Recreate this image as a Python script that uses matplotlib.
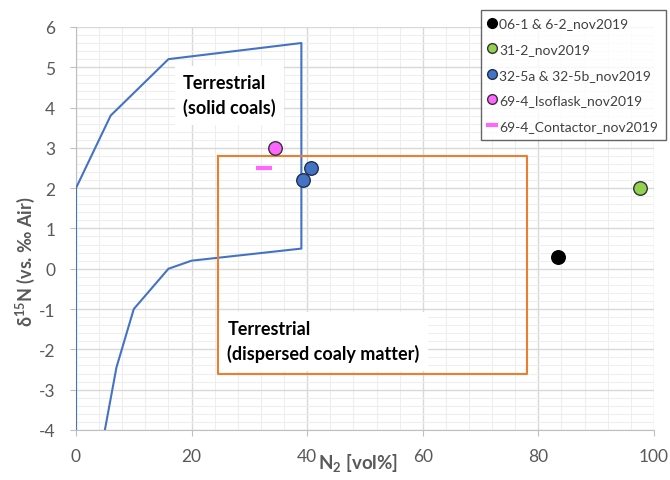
import matplotlib.pyplot as plt
from matplotlib.lines import Line2D

plt.rcParams['font.family'] = ['Lato', 'DejaVu Sans']
plt.rcParams['axes.unicode_minus'] = False
plt.rcParams['mathtext.default'] = 'regular'

# envelope for terrestrial solid coals
coal_x = [5, 7, 10, 16, 20, 39, 39, 16, 6, 0, 0]
coal_y = [-4, -2.45, -1, 0, 0.2, 0.5, 5.6, 5.2, 3.8, 2, -4]

# box for dispersed coaly matter
disp_x = [24.5, 78, 78, 24.5, 24.5]
disp_y = [2.8, 2.8, -2.6, -2.6, 2.8]

# samples
s_black_x, s_black_y = [83.4], [0.3]
s_green_x, s_green_y = [97.6], [2.0]
s_blue_x, s_blue_y = [39.3, 40.6], [2.2, 2.5]
s_pink_x, s_pink_y = [34.4], [3.0]
s_dash_x, s_dash_y = [32.6], [2.5]

labels = ['06-1 & 6-2_nov2019', '31-2_nov2019', '32-5a & 32-5b_nov2019',
          '69-4_Isoflask_nov2019', '69-4_Contactor_nov2019']

fig = plt.figure(figsize=(6.7, 4.81), dpi=100)
ax = fig.add_axes([0.1134, 0.104, 0.8626, 0.838])

ax.plot(coal_x, coal_y, color='#4472c4', lw=1.5, zorder=3)
ax.plot(disp_x, disp_y, color='#ed7d31', lw=1.5, zorder=3)

ax.scatter(s_black_x, s_black_y, s=95, c='black', zorder=5)
ax.scatter(s_green_x, s_green_y, s=95, c='#92d050', edgecolors='#333333', lw=1, zorder=5)
ax.scatter(s_blue_x, s_blue_y, s=95, c='#4472c4', edgecolors='#1f2f4f', lw=1, zorder=5)
ax.scatter(s_pink_x, s_pink_y, s=95, c='#ff66ff', edgecolors='#333333', lw=1, zorder=5)
ax.plot(s_dash_x, s_dash_y, marker='_', ms=12, mew=3, color='#ff66ff', ls='none', zorder=5)

ax.text(18.5, 4.3, 'Terrestrial\n(solid coals)', fontsize=13, fontweight='bold',
        va='center', ha='left', linespacing=1.45, zorder=4,
        bbox=dict(facecolor='white', edgecolor='none', pad=6))
ax.text(26.2, -1.8, 'Terrestrial\n(dispersed coaly matter)', fontsize=13, fontweight='bold',
        va='center', ha='left', linespacing=1.45, zorder=4,
        bbox=dict(facecolor='white', edgecolor='none', pad=6))

ax.set_xlim(0, 100)
ax.set_ylim(-4, 6)
ax.set_xticks(range(0, 101, 20))
ax.set_yticks(range(-4, 7))
ax.set_xticks([x for x in range(0, 101, 4)], minor=True)
ax.set_yticks([-4 + 0.2 * i for i in range(51)], minor=True)
ax.grid(which='major', color='#d9d9d9', lw=1, zorder=0)
ax.grid(which='minor', color='#eeeeee', lw=0.8, zorder=0)
ax.set_axisbelow(True)
for side in ['top', 'right']:
    ax.spines[side].set_visible(False)
for side in ['left', 'bottom']:
    ax.spines[side].set_color('#bfbfbf')
ax.tick_params(which='major', colors='#bfbfbf', labelcolor='#595959', labelsize=12.5, length=4)
ax.tick_params(which='minor', length=0)
ax.tick_params(axis='x', pad=9)
ax.tick_params(axis='y', pad=11)

ax.set_xlabel('N$_2$ [vol%]', fontsize=13.5, fontweight='bold', color='#595959', va='center')
ax.set_ylabel('δ$^{15}$N (vs. ‰ Air)', fontsize=13, fontweight='bold', color='#595959', va='center')
ax.xaxis.set_label_coords(0.488, -0.08)
ax.yaxis.set_label_coords(-0.088, 0.42)

handles = [
    Line2D([], [], marker='o', ls='none', color='black', ms=7),
    Line2D([], [], marker='o', ls='none', mfc='#92d050', mec='#333333', ms=7),
    Line2D([], [], marker='o', ls='none', mfc='#4472c4', mec='#1f2f4f', ms=7),
    Line2D([], [], marker='o', ls='none', mfc='#ff66ff', mec='#333333', ms=7),
    Line2D([], [], marker='_', ls='none', color='#ff66ff', ms=8, mew=3),
]
leg = fig.legend(handles, labels, loc='upper left', bbox_to_anchor=(0.707, 0.992),
                 fontsize=10, frameon=True, fancybox=False, handlelength=0.6,
                 handletextpad=0.2, labelspacing=0.98, borderpad=0.55, labelcolor='#404040')
leg.get_frame().set_edgecolor('#404040')
leg.get_frame().set_linewidth(1)

fig.savefig('out.png', dpi=100)
